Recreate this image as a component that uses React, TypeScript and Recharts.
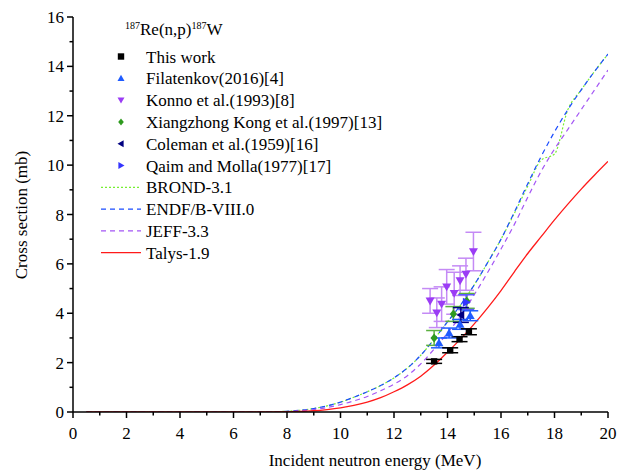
import React from "react";
import { ComposedChart, ErrorBar, Line, Scatter, XAxis, YAxis } from "recharts";

const FONT = '"Liberation Serif", "Times New Roman", serif';

// evaluated / calculated excitation functions (MeV -> mb)
const energy = [
  0.5, 1, 2, 3, 4, 5, 6, 7, 8, 8.5, 9, 9.5, 10, 10.5, 11, 11.5, 12, 12.5, 13,
  13.5, 14, 14.5, 15, 15.5, 16, 16.5, 17, 17.5, 18, 18.5, 19, 19.5, 20,
];
const brond = [
  0, 0, 0, 0, 0, 0, 0, 0.005, 0.03, 0.07, 0.14, 0.25, 0.4, 0.6, 0.82, 1.07,
  1.38, 1.78, 2.3, 2.95, 3.65, 4.35, 5.15, 6.05, 7.0, 8.05, 9.15, 10.2, 10.45,
  12.25, 13.05, 13.8, 14.5,
];
const endf = [
  0, 0, 0, 0, 0, 0, 0, 0.005, 0.03, 0.07, 0.14, 0.25, 0.4, 0.6, 0.82, 1.07,
  1.38, 1.78, 2.3, 2.95, 3.65, 4.35, 5.15, 6.05, 7.0, 8.1, 9.25, 10.35, 11.35,
  12.25, 13.05, 13.8, 14.5,
];
const jeff = [
  0, 0, 0, 0, 0, 0, 0, 0.003, 0.02, 0.05, 0.1, 0.18, 0.3, 0.45, 0.63, 0.86,
  1.13, 1.47, 1.95, 2.55, 3.2, 3.9, 4.75, 5.65, 6.6, 7.6, 8.7, 9.75, 10.65,
  11.45, 12.25, 13.05, 13.85,
];
const talys = [
  0, 0, 0, 0, 0, 0, 0, 0.002, 0.01, 0.02, 0.05, 0.1, 0.17, 0.27, 0.4, 0.58,
  0.82, 1.1, 1.45, 1.9, 2.42, 2.97, 3.57, 4.22, 4.92, 5.68, 6.42, 7.1, 7.78,
  8.42, 9.03, 9.6, 10.15,
];

// measurements
const thisWorkE = [13.5, 14.1, 14.45, 14.8];
const thisWorkCs = [2.05, 2.5, 2.95, 3.25];
const thisWorkErr = [0.08, 0.1, 0.1, 0.12];

const filatenkovE = [13.68, 14.06, 14.47, 14.85];
const filatenkovCs = [2.8, 3.2, 3.55, 3.9];
const filatenkovErr = [0.2, 0.2, 0.2, 0.2];

const konnoE = [13.35, 13.6, 13.78, 13.97, 14.25, 14.47, 14.69, 14.97];
const konnoCs = [4.5, 4.02, 4.37, 5.07, 4.81, 5.32, 5.58, 6.5];
const konnoErr = [0.5, 0.6, 0.7, 0.7, 0.85, 0.6, 0.65, 0.78];

const kongE = [13.5, 14.22, 14.72];
const kongCs = [3.0, 3.97, 4.5];
const kongErr = [0.3, 0.3, 0.3];

const colemanE = [14.5];
const colemanCs = [3.93];
const colemanErr = [0.3];

const qaimE = [14.7];
const qaimCs = [4.45];
const qaimErr = [0.3];

const xTicks = [0, 1, 2, 3, 4, 5, 6, 7, 8, 9, 10, 11, 12, 13, 14, 15, 16, 17, 18, 19, 20];
const yTicks = [0, 1, 2, 3, 4, 5, 6, 7, 8, 9, 10, 11, 12, 13, 14, 15, 16];

const curve = (ys: number[]) => energy.map((x, i) => ({ x, y: ys[i] }));
const points = (xs: number[], ys: number[], es: number[]) =>
  xs.map((x, i) => ({ x, y: ys[i], e: es[i] }));

type Mk = "square" | "up" | "down" | "diamond" | "left" | "right";

function marker(kind: Mk, cx: number, cy: number, color: string, s = 4.5) {
  if (kind === "square")
    return <rect x={cx - 3.2} y={cy - 3.2} width={6.4} height={6.4} fill={color} />;
  let pts = "";
  if (kind === "up") pts = `${cx},${cy - s} ${cx - s},${cy + s * 0.75} ${cx + s},${cy + s * 0.75}`;
  if (kind === "down") pts = `${cx},${cy + s} ${cx - s},${cy - s * 0.75} ${cx + s},${cy - s * 0.75}`;
  if (kind === "diamond") pts = `${cx},${cy - s} ${cx + s * 0.8},${cy} ${cx},${cy + s} ${cx - s * 0.8},${cy}`;
  if (kind === "left") pts = `${cx - s},${cy} ${cx + s * 0.75},${cy - s} ${cx + s * 0.75},${cy + s}`;
  if (kind === "right") pts = `${cx + s},${cy} ${cx - s * 0.75},${cy - s} ${cx - s * 0.75},${cy + s}`;
  return <polygon points={pts} fill={color} />;
}

const shape = (kind: Mk, color: string) => (p: any) =>
  <g>{marker(kind, p.cx, p.cy, color)}</g>;

const XTick = (p: any) => {
  const v = p.payload.value;
  const major = v % 2 === 0;
  return (
    <g>
      <line x1={p.x} x2={p.x} y1={412} y2={412 + (major ? 6 : 3.5)} stroke="#000" strokeWidth={1.5} />
      {major && (
        <text x={p.x} y={439} textAnchor="middle" fontFamily={FONT} fontSize={17} fill="#000">
          {v}
        </text>
      )}
    </g>
  );
};

const YTick = (p: any) => {
  const v = p.payload.value;
  const major = v % 2 === 0;
  return (
    <g>
      <line x1={73} x2={73 - (major ? 6 : 3.5)} y1={p.y} y2={p.y} stroke="#000" strokeWidth={1.5} />
      {major && (
        <text x={64} y={p.y + 6} textAnchor="end" fontFamily={FONT} fontSize={17} fill="#000">
          {v}
        </text>
      )}
    </g>
  );
};

const legendItems: { label: string; mk?: Mk; color: string; dash?: string }[] = [
  { label: "This work", mk: "square", color: "#000000" },
  { label: "Filatenkov(2016)[4]", mk: "up", color: "#1f5bff" },
  { label: "Konno et al.(1993)[8]", mk: "down", color: "#9b3cf5" },
  { label: "Xiangzhong Kong et al.(1997)[13]", mk: "diamond", color: "#2e9a1e" },
  { label: "Coleman et al.(1959)[16]", mk: "left", color: "#000080" },
  { label: "Qaim and Molla(1977)[17]", mk: "right", color: "#3535ff" },
  { label: "BROND-3.1", color: "#77ee33", dash: "2 2" },
  { label: "ENDF/B-VIII.0", color: "#1a4cff", dash: "5 4" },
  { label: "JEFF-3.3", color: "#a456f5", dash: "5 4" },
  { label: "Talys-1.9", color: "#ff1a1a" },
];

function Overlay() {
  return (
    <svg width={632} height={471} style={{ position: "absolute", left: 0, top: 0, pointerEvents: "none" }}>
      <g fontFamily={FONT} fill="#000">
        <text x={125} y={35} fontSize={17}>
          <tspan fontSize={10} dy={-6}>187</tspan>
          <tspan dy={6}>Re(n,p)</tspan>
          <tspan fontSize={10} dy={-6}>187</tspan>
          <tspan dy={6}>W</tspan>
        </text>
        {legendItems.map((it, i) => {
          const cy = 56.5 + i * 21.8;
          return (
            <g key={it.label}>
              {it.mk ? (
                marker(it.mk, 121, cy, it.color, 3.5)
              ) : (
                <line x1={101} x2={141} y1={cy} y2={cy} stroke={it.color} strokeWidth={1.2} strokeDasharray={it.dash} />
              )}
              <text x={146} y={cy + 6} fontSize={17}>{it.label}</text>
            </g>
          );
        })}
        <text x={375} y={466} fontSize={17} textAnchor="middle">Incident neutron energy (MeV)</text>
        <text x={27} y={215} fontSize={17} textAnchor="middle" transform="rotate(-90, 27, 215)">
          Cross section (mb)
        </text>
      </g>
    </svg>
  );
}

export default function App() {
  const eb = (color: string) => (
    <ErrorBar dataKey="e" direction="y" width={8} stroke={color} strokeWidth={1.5} isAnimationActive={false} />
  );
  return (
    <div style={{ position: "absolute", left: 0, top: 0, width: 632, height: 471, background: "#fff" }}>
      <ComposedChart width={632} height={471} margin={{ top: 17, right: 24, left: 13, bottom: 4 }}>
        <XAxis
          type="number"
          dataKey="x"
          domain={[0, 20]}
          ticks={xTicks}
          interval={0}
          height={55}
          tickSize={0}
          tickMargin={0}
          tick={<XTick />}
          axisLine={{ stroke: "#000", strokeWidth: 1.5 }}
          tickLine={false}
          allowDataOverflow
        />
        <YAxis
          type="number"
          dataKey="y"
          domain={[0, 16]}
          ticks={yTicks}
          interval={0}
          width={60}
          tickSize={0}
          tickMargin={0}
          tick={<YTick />}
          axisLine={{ stroke: "#000", strokeWidth: 1.5 }}
          tickLine={false}
          allowDataOverflow
        />
        <Line data={curve(brond)} dataKey="y" type="monotone" stroke="#77ee33" strokeWidth={1.2} strokeDasharray="2 2" dot={false} isAnimationActive={false} />
        <Line data={curve(endf)} dataKey="y" type="monotone" stroke="#1a4cff" strokeWidth={1.2} strokeDasharray="5 4" dot={false} isAnimationActive={false} />
        <Line data={curve(jeff)} dataKey="y" type="monotone" stroke="#a456f5" strokeWidth={1.2} strokeDasharray="5 4" dot={false} isAnimationActive={false} />
        <Line data={curve(talys)} dataKey="y" type="monotone" stroke="#ff1a1a" strokeWidth={1.3} dot={false} isAnimationActive={false} />
        <Scatter data={points(konnoE, konnoCs, konnoErr)} dataKey="y" shape={shape("down", "#9b3cf5")} isAnimationActive={false}>
          {eb("#c48af5")}
        </Scatter>
        <Scatter data={points(kongE, kongCs, kongErr)} dataKey="y" shape={shape("diamond", "#2e9a1e")} isAnimationActive={false}>
          {eb("#5cb040")}
        </Scatter>
        <Scatter data={points(qaimE, qaimCs, qaimErr)} dataKey="y" shape={shape("right", "#3535ff")} isAnimationActive={false}>
          {eb("#5a5aff")}
        </Scatter>
        <Scatter data={points(filatenkovE, filatenkovCs, filatenkovErr)} dataKey="y" shape={shape("up", "#1f5bff")} isAnimationActive={false}>
          {eb("#1f5bff")}
        </Scatter>
        <Scatter data={points(colemanE, colemanCs, colemanErr)} dataKey="y" shape={shape("left", "#000080")} isAnimationActive={false}>
          {eb("#000080")}
        </Scatter>
        <Scatter data={points(thisWorkE, thisWorkCs, thisWorkErr)} dataKey="y" shape={shape("square", "#000000")} isAnimationActive={false}>
          {eb("#000000")}
        </Scatter>
      </ComposedChart>
      <Overlay />
    </div>
  );
}
